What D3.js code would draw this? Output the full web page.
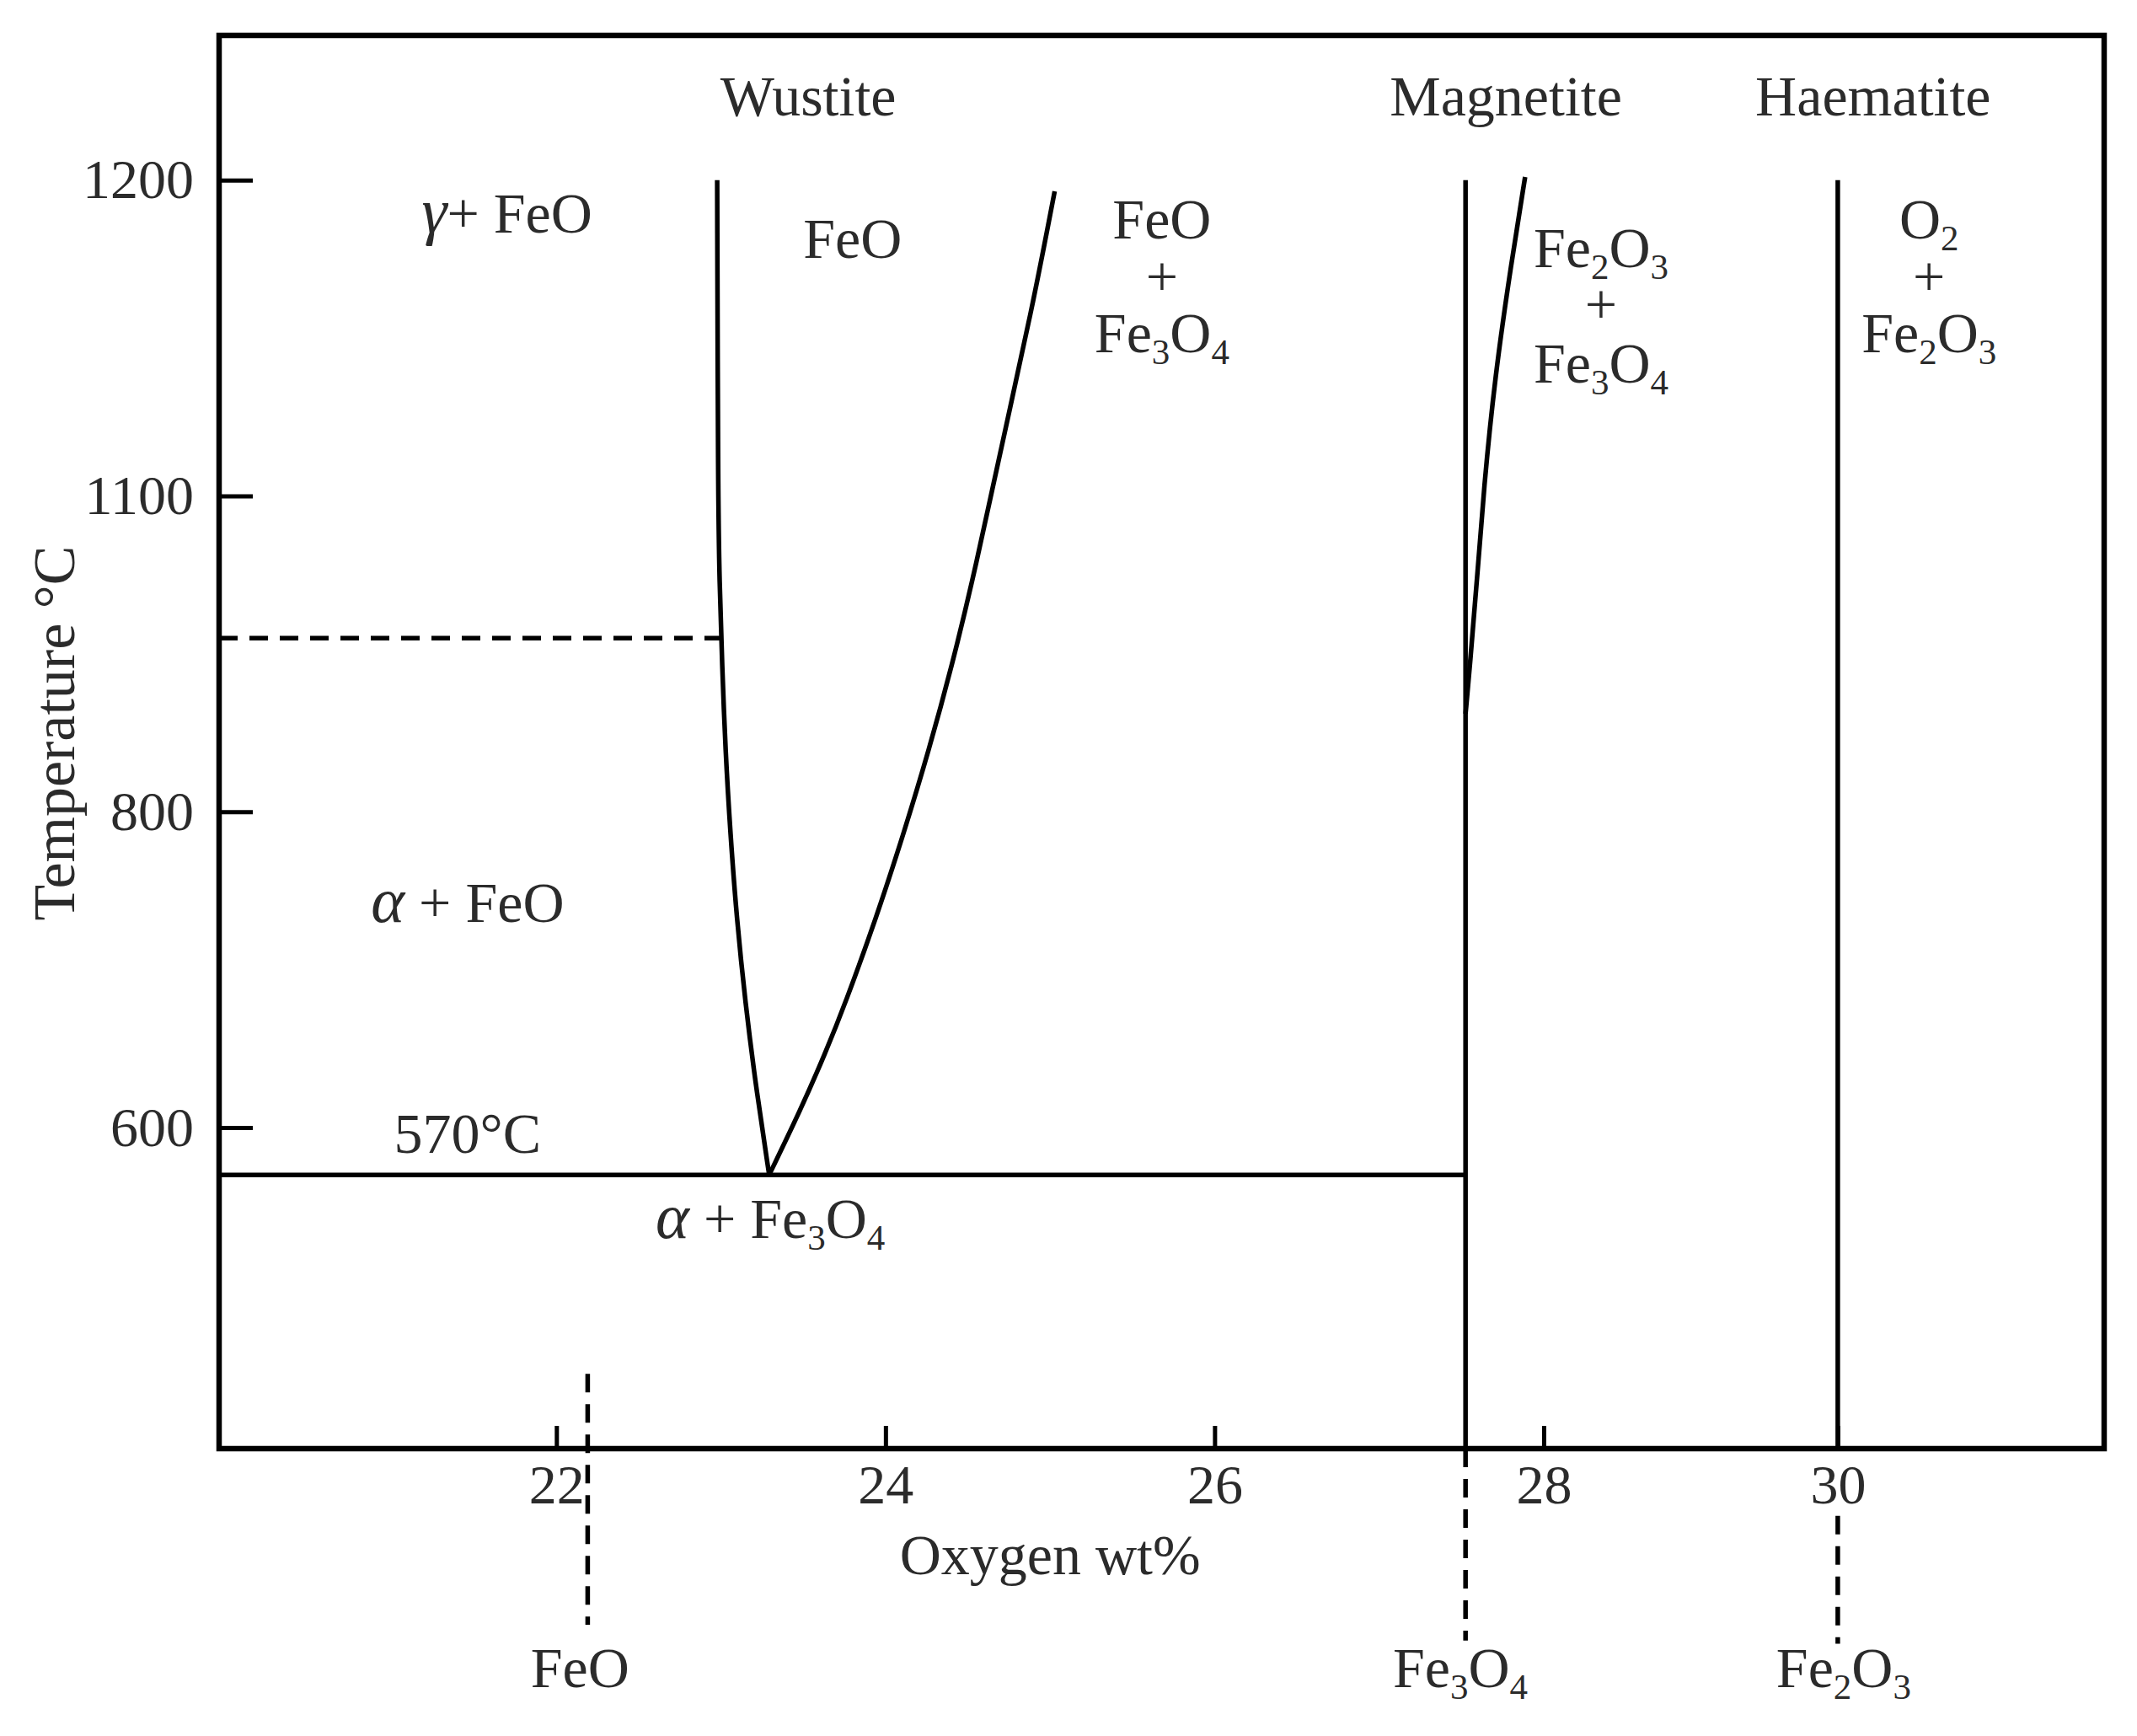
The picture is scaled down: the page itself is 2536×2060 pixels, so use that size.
<!DOCTYPE html>
<html>
<head>
<meta charset="utf-8">
<script src="https://cdn.jsdelivr.net/npm/d3@7"></script>
<style>
  body { margin: 0; background: #fff; overflow: hidden; }
  svg { display: block; }
  svg text { font-family: "Liberation Serif", "Times New Roman", serif; fill: #2b2b2b; }
</style>
</head>
<body>
<div id="chart"></div>
<script>
// Fe-O phase diagram (oxygen wt% vs temperature)

// ---- Data ----
const xTicks = [22, 24, 26, 28, 30];
const yTicks = [1200, 1000, 800, 600];
const yTickLabels = ["1200", "1100", "800", "600"];   // printed as-is in the source figure

const eutectoidT = 570;       // alpha + Fe3O4 line
const alphaGammaT = 910;      // dashed alpha/gamma transition

// wustite field, left boundary [wt%, degC]
const wustiteLeft = [
  [22.977, 1200], [22.982, 999], [22.991, 946], [23.007, 893], [23.027, 839],
  [23.057, 786], [23.096, 732], [23.148, 679], [23.212, 626], [23.293, 570]
];
// wustite field, right boundary
const wustiteRight = [
  [23.293, 570], [23.483, 611], [23.634, 647], [23.757, 679], [23.941, 732],
  [24.110, 786], [24.264, 839], [24.405, 893], [24.528, 946], [24.638, 999],
  [24.751, 1053], [24.901, 1124], [25.028, 1193]
];
// magnetite solvus towards Fe2O3
const magnetiteRight = [
  [27.525, 862], [27.552, 893], [27.594, 946], [27.636, 1005],
  [27.704, 1076], [27.802, 1147], [27.887, 1202]
];

// stoichiometric compounds
const compoundNames = ["FeO", "Fe_3O_4", "Fe_2O_3"];
const compoundWt = [22.19, 27.525, 30.0];
const compoundLabelWt = [22.143, 27.493, 30.04];
const compoundSolidTop = [null, 1200, 1200];
const compoundDashTop = [444, null, 354];
const compoundDashBottom = [285, 275, 273];

// field labels [text, wt%, degC at baseline]
const labelText = [
  "Wustite", "Magnetite", "Haematite",
  "γ+ FeO", "FeO",
  "FeO", "+", "Fe_3O_4",
  "Fe_2O_3", "+", "Fe_3O_4",
  "O_2", "+", "Fe_2O_3",
  "α + FeO", "570°C", "α + Fe_3O_4"
];
const labelWt = [
  23.53, 27.77, 30.24,
  21.70, 23.80,
  25.68, 25.68, 25.68,
  28.39, 28.39, 28.39,
  30.62, 30.62, 30.62,
  21.46, 21.46, 23.30
];
const labelT = [
  1241, 1241, 1241,
  1167, 1151,
  1163, 1127, 1091,
  1145, 1109, 1072,
  1163, 1127, 1091,
  730, 584, 530
];

// ---- Layout ----
const CONFIG = {
  width: 2536,
  height: 2060,
  margin: { top: 42, right: 39, bottom: 341, left: 260 },
  fontSize: 68,
  greekSize: 76,
  tickFontSize: 66,
  subSize: 43,
  subShift: 14,
  lineWidth: 5.5,
  frameWidth: 6.5,
  yTickLength: 40,
  xTickLength: 27,
  dash: "22,14",
  compoundLabelOffset: 283
};

const innerWidth = CONFIG.width - CONFIG.margin.left - CONFIG.margin.right;
const innerHeight = CONFIG.height - CONFIG.margin.top - CONFIG.margin.bottom;

const svg = d3.select("#chart")
  .append("svg")
  .attr("width", CONFIG.width)
  .attr("height", CONFIG.height);

const g = svg.append("g")
  .attr("transform", `translate(${CONFIG.margin.left},${CONFIG.margin.top})`);

// the printed x axis is not evenly spaced past 28 wt%, so use a piecewise scale
const xScale = d3.scaleLinear()
  .domain([19.95, 28, 30, 31.81])
  .range([0, innerWidth * 0.7027, innerWidth * 0.8587, innerWidth]);

const yScale = d3.scaleLinear()
  .domain([396.6, 1291.7])
  .range([innerHeight, 0]);

const xMin = xScale.domain()[0];
const yMin = yScale.domain()[0];

const line = d3.line()
  .x(d => xScale(d[0]))
  .y(d => yScale(d[1]));

const curve = d3.line()
  .x(d => xScale(d[0]))
  .y(d => yScale(d[1]))
  .curve(d3.curveBasis);

// ---- Text with subscripts and italic greek ----
function writeFormula(textSel, str) {
  if (!/[_αγ]/.test(str)) {        // plain label
    textSel.text(str);
    return;
  }
  const tokens = str.match(/_\d|[αγ]|[^_αγ]+/g) || [];
  let shifted = false;
  tokens.forEach(tok => {
    const ts = textSel.append("tspan");
    if (tok[0] === "_") {
      ts.text(tok.slice(1))
        .attr("font-size", CONFIG.subSize)
        .attr("dy", shifted ? 0 : CONFIG.subShift);
      shifted = true;
    } else {
      ts.text(tok);
      if (shifted) { ts.attr("dy", -CONFIG.subShift); shifted = false; }
      if (tok === "α" || tok === "γ") {
        ts.attr("font-style", "italic").attr("font-size", CONFIG.greekSize);
      }
    }
  });
}

// ---- Axes ----
function renderAxes() {
  const yAxis = g.append("g")
    .call(d3.axisLeft(yScale)
      .tickValues(yTicks)
      .tickFormat((d, i) => yTickLabels[i])
      .tickSizeInner(-CONFIG.yTickLength)
      .tickSizeOuter(0)
      .tickPadding(30));

  const xAxis = g.append("g")
    .attr("transform", `translate(0,${innerHeight})`)
    .call(d3.axisBottom(xScale)
      .tickValues(xTicks)
      .tickSizeInner(-CONFIG.xTickLength)
      .tickSizeOuter(0)
      .tickPadding(18));

  [yAxis, xAxis].forEach(ax => {
    ax.select(".domain").remove();
    ax.attr("font-family", null).attr("font-size", CONFIG.tickFontSize);
    ax.selectAll("line").attr("stroke", "#000").attr("stroke-width", 5);
    ax.selectAll("text").attr("fill", "#2b2b2b");
  });

  // frame
  g.append("rect")
    .attr("width", innerWidth)
    .attr("height", innerHeight)
    .attr("fill", "none")
    .attr("stroke", "#000")
    .attr("stroke-width", CONFIG.frameWidth);

  // axis titles
  g.append("text")
    .attr("x", xScale(25.0))
    .attr("y", innerHeight + 149)
    .attr("text-anchor", "middle")
    .attr("font-size", CONFIG.fontSize)
    .text("Oxygen wt%");

  svg.append("text")
    .attr("transform", `translate(88,870) rotate(-90)`)
    .attr("text-anchor", "middle")
    .attr("font-size", 70)
    .text("Temperature °C");
}

// ---- Phase boundaries ----
function renderBoundaries() {
  const solid = (data, gen) => g.append("path")
    .datum(data)
    .attr("d", gen)
    .attr("fill", "none")
    .attr("stroke", "#000")
    .attr("stroke-width", CONFIG.lineWidth);

  const dashed = data => solid(data, line).attr("stroke-dasharray", CONFIG.dash);

  // eutectoid line from the frame to Fe3O4
  solid([[xMin, eutectoidT], [compoundWt[1], eutectoidT]], line);

  // alpha/gamma dashed line up to the wustite boundary
  dashed([[xMin, alphaGammaT], [23.002, alphaGammaT]]);

  solid(wustiteLeft, curve);
  solid(wustiteRight, curve);
  solid(magnetiteRight, curve);

  compoundWt.forEach((wt, i) => {
    if (compoundSolidTop[i] !== null) {
      solid([[wt, compoundSolidTop[i]], [wt, yMin]], line);
    }
    const top = compoundDashTop[i] !== null ? compoundDashTop[i] : yMin;
    dashed([[wt, top], [wt, compoundDashBottom[i]]]);
  });
}

// ---- Labels ----
function renderLabels() {
  labelText.forEach((txt, i) => {
    const t = g.append("text")
      .attr("x", xScale(labelWt[i]))
      .attr("y", yScale(labelT[i]))
      .attr("text-anchor", "middle")
      .attr("font-size", CONFIG.fontSize);
    writeFormula(t, txt);
  });

  compoundNames.forEach((name, i) => {
    const t = g.append("text")
      .attr("x", xScale(compoundLabelWt[i]))
      .attr("y", innerHeight + CONFIG.compoundLabelOffset)
      .attr("text-anchor", "middle")
      .attr("font-size", CONFIG.fontSize);
    writeFormula(t, name);
  });
}

renderAxes();
renderBoundaries();
renderLabels();
</script>
</body>
</html>
